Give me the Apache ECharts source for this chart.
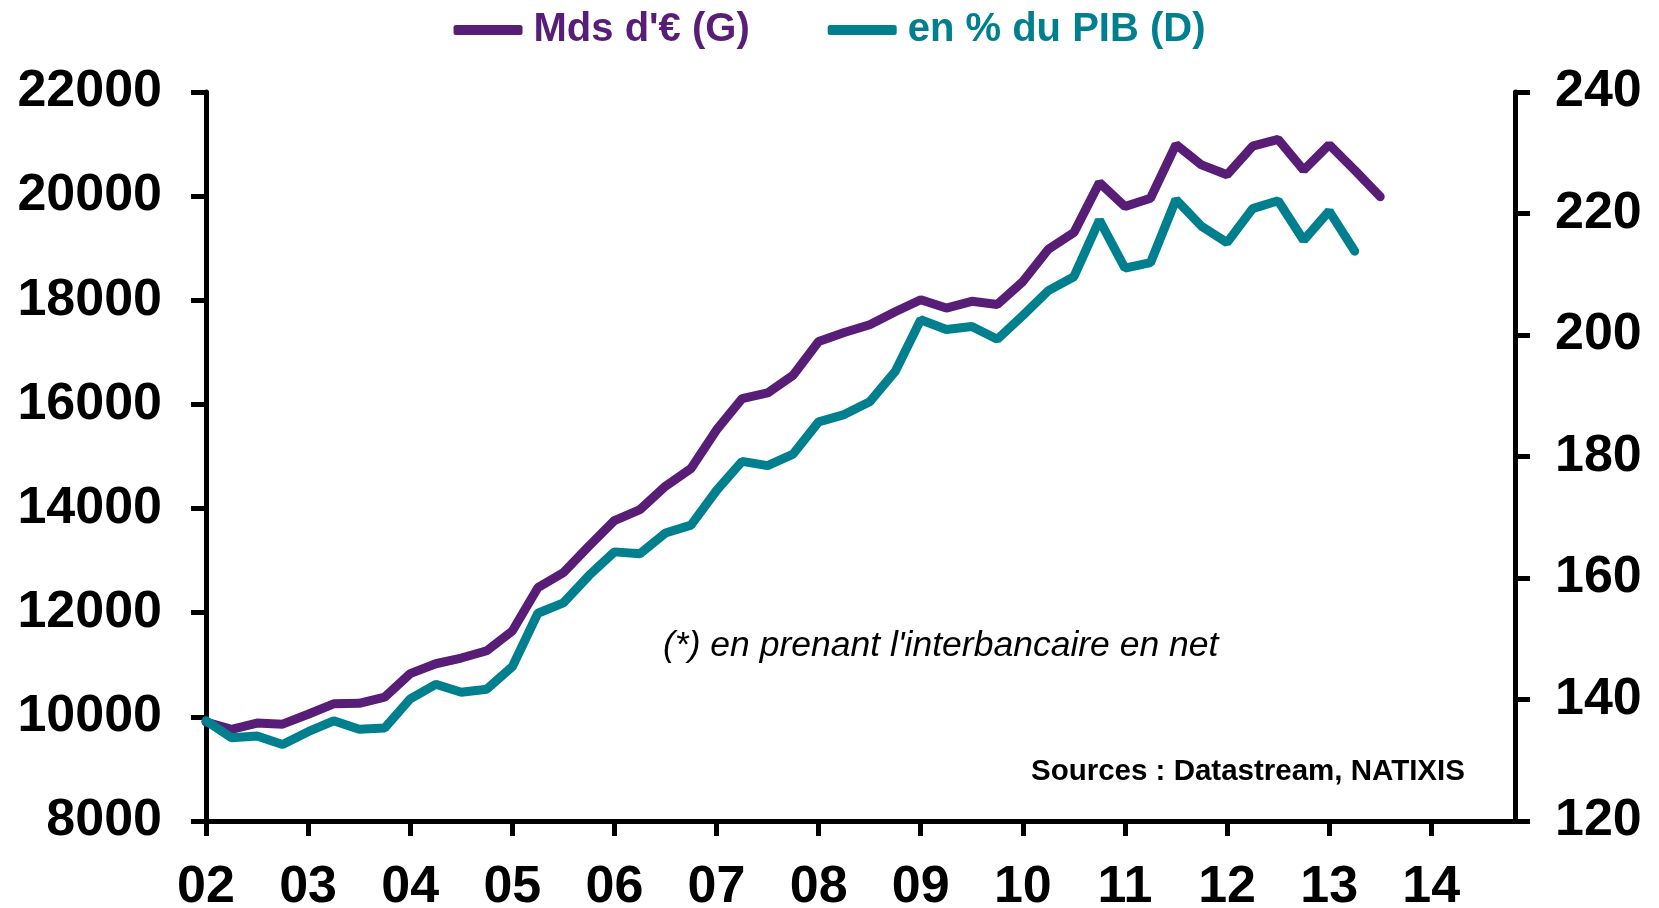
<!DOCTYPE html>
<html>
<head>
<meta charset="utf-8">
<script src="https://cdn.jsdelivr.net/npm/echarts@6/dist/echarts.min.js"></script>
<style>
  html, body { margin: 0; padding: 0; background: #fff; }
  #chart { width: 1659px; height: 908px; }
</style>
</head>
<body>
<div id="chart"></div>
<script>
// quarterly data, first point = 2002 Q1
var startYear = 2002
var yearTicks = [2002, 2003, 2004, 2005, 2006, 2007, 2008, 2009, 2010, 2011, 2012, 2013, 2014]

// Mds d'€ (axe gauche)
var mdsEuro = [
  9900, 9760, 9880, 9860, 10050, 10250, 10260, 10380,
  10830, 11020, 11130, 11270, 11650, 12480, 12770, 13280,
  13770, 13980, 14430, 14770, 15510, 16110, 16220, 16560,
  17210, 17380, 17530, 17780, 18010, 17850, 17980, 17920,
  18360, 18980, 19300, 20260, 19800, 19960, 20990, 20600,
  20410, 20960, 21090, 20500, 20990, 20500, 19990
]

// en % du PIB (axe droit)
var pctPib = [
  136.5, 133.7, 134.0, 132.6, 134.7, 136.5, 135.1, 135.3,
  140.1, 142.5, 141.2, 141.7, 145.4, 154.2, 155.9, 160.4,
  164.3, 164.0, 167.4, 168.7, 174.4, 179.2, 178.5, 180.4,
  185.7, 186.9, 189.0, 194.0, 202.5, 200.9, 201.4, 199.3,
  203.2, 207.3, 209.6, 218.9, 211.0, 211.9, 222.3, 217.9,
  215.2, 220.8, 222.1, 215.6, 220.4, 213.8
]

var purple = '#581d76'
var teal = '#00808f'
var font = 'Liberation Sans, Arial, sans-serif'

function toPairs(arr) {
  return arr.map(function (v, i) { return [startYear + i / 4, v] })
}

var myChart = echarts.init(document.getElementById('chart'))

var axisLineStyle = { color: '#000', width: 5 }
var tickStyle = { show: true, length: 15, lineStyle: { color: '#000', width: 5 } }
var labelStyle = { color: '#000', fontSize: 52, fontWeight: 'bold', fontFamily: font }
var plain = function (v) { return String(v) }

var option = {
  animation: false,
  backgroundColor: '#fff',
  legend: {
    top: 5,
    left: 'center',
    icon: 'roundRect',
    itemWidth: 69,
    itemHeight: 10,
    itemGap: 78,
    textStyle: { fontSize: 40, fontWeight: 'bold', fontFamily: font, padding: [0, 0, 0, 6] },
    data: [
      { name: "Mds d'€ (G)", textStyle: { color: purple } },
      { name: 'en % du PIB (D)', textStyle: { color: teal } }
    ]
  },
  grid: { left: 206, right: 144, top: 92, bottom: 87, containLabel: false, outerBoundsMode: 'none' },
  xAxis: {
    type: 'value',
    min: startYear,
    max: 2014.82,
    splitLine: { show: false },
    axisLine: { lineStyle: axisLineStyle },
    axisTick: Object.assign({ customValues: yearTicks }, tickStyle),
    axisLabel: Object.assign({
      customValues: yearTicks,
      margin: 41,
      formatter: function (v) { return String(Math.round(v) % 100).padStart(2, '0') }
    }, labelStyle)
  },
  yAxis: [
    {
      type: 'value',
      position: 'left',
      min: 8000,
      max: 22000,
      interval: 2000,
      splitLine: { show: false },
      axisLine: { show: true, lineStyle: axisLineStyle },
      axisTick: tickStyle,
      axisLabel: Object.assign({ margin: 44, formatter: plain }, labelStyle)
    },
    {
      type: 'value',
      position: 'right',
      min: 120,
      max: 240,
      interval: 20,
      splitLine: { show: false },
      axisLine: { show: true, lineStyle: axisLineStyle },
      axisTick: tickStyle,
      axisLabel: Object.assign({ margin: 40, formatter: plain }, labelStyle)
    }
  ],
  series: [
    {
      name: "Mds d'€ (G)",
      type: 'line',
      yAxisIndex: 0,
      showSymbol: false,
      lineStyle: { color: purple, width: 9, cap: 'round' },
      itemStyle: { color: purple },
      data: toPairs(mdsEuro)
    },
    {
      name: 'en % du PIB (D)',
      type: 'line',
      yAxisIndex: 1,
      showSymbol: false,
      lineStyle: { color: teal, width: 9, cap: 'round' },
      itemStyle: { color: teal },
      data: toPairs(pctPib)
    }
  ],
  graphic: [
    {
      type: 'text',
      left: 663,
      top: 628,
      style: {
        text: "(*) en prenant l'interbancaire en net",
        fontSize: 35.5,
        fontStyle: 'italic',
        fontFamily: font,
        fill: '#000'
      }
    },
    {
      type: 'text',
      left: 1031,
      top: 757,
      style: {
        text: 'Sources : Datastream, NATIXIS',
        fontSize: 29.5,
        fontWeight: 'bold',
        fontFamily: font,
        fill: '#000'
      }
    }
  ]
}

myChart.setOption(option)
</script>
</body>
</html>
